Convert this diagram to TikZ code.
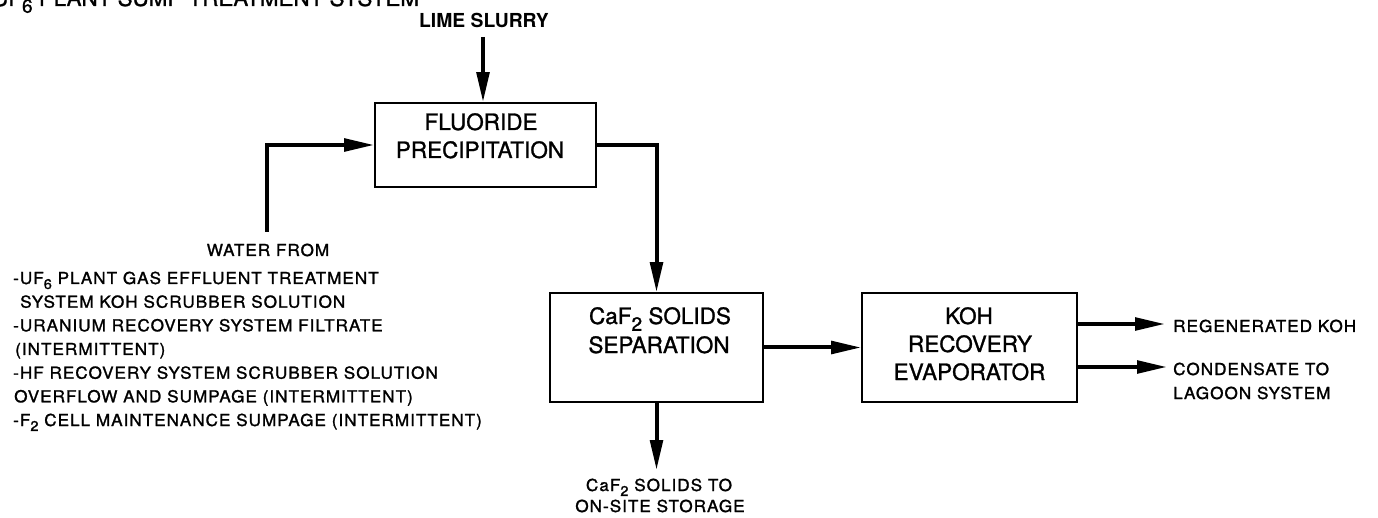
\documentclass[tikz,border=0pt]{standalone}
\usepackage{fontspec}
\setmainfont{TeX Gyre Heros}[FakeBold=1.2]
\newfontfamily\listfont[LetterSpace=6,FakeStretch=1.04,FakeBold=1.4]{TeX Gyre Heros}
\newfontfamily\boldface{TeX Gyre Heros Bold}
\usetikzlibrary{arrows.meta}
% lowered, slightly reduced index digit (UF6, CaF2, F2)
\newcommand\lowdigit[1]{\raisebox{-0.3em}{\scalebox{0.85}{#1}}}

\tikzset{
  unit/.style={draw, line width=1.6pt, inner sep=0pt},
  flow/.style={line width=4pt, -{Triangle[length=30pt,width=12.5pt]}},
  boxtxt/.style={font=\fontsize{22.5}{27}\selectfont, anchor=base, inner sep=0pt},
  smalltxt/.style={font=\listfont\fontsize{16.5}{20}\selectfont, inner sep=0pt},
  titletxt/.style={font=\fontsize{22.4}{26}\selectfont, inner sep=0pt, anchor=base west},
  limetxt/.style={font=\boldface\fontsize{19.3}{23}\selectfont, inner sep=0pt, anchor=base},
}

\begin{document}
\begin{tikzpicture}[x=1pt, y=-1pt]
  \useasboundingbox (0,0) rectangle (1378,518);
  \fill[white] (0,0) rectangle (1378,518);
  \clip (0,0) rectangle (1378,518);

  % heading (runs off the top edge)
  \node[titletxt] (title) at (-8,6) {UF\lowdigit{6} PLANT SUMP TREATMENT SYSTEM};

  % process units
  \node[unit, minimum width=221pt, minimum height=84pt]  (fluor) at (485.5,145) {};
  \node[unit, minimum width=213pt, minimum height=109pt] (sep)   at (656.5,347.5) {};
  \node[unit, minimum width=215pt, minimum height=109pt] (koh)   at (969.5,347.5) {};

  % unit labels
  \node[boxtxt] (fluorA) at (481,130) {FLUORIDE};
  \node[boxtxt] (fluorB) at (480,158) {PRECIPITATION};
  \node[boxtxt] (sepA) at (660,324) {CaF\lowdigit{2} SOLIDS};
  \node[boxtxt] (sepB) at (659,353) {SEPARATION};
  \node[boxtxt] (kohA) at (969,324) {KOH};
  \node[boxtxt] (kohB) at (970,352) {RECOVERY};
  \node[boxtxt] (kohC) at (969.5,380) {EVAPORATOR};

  % lime feed
  \node[limetxt] (lime) at (484,28) {LIME SLURRY};
  \coordinate (limeSrc) at (483,37);
  \draw[flow] (limeSrc) -- (limeSrc |- fluor.north);

  % water feed and its sources
  \node[smalltxt, anchor=base] (w0) at (268,256) {WATER FROM};
  \node[smalltxt, anchor=base west] (w1) at (13,284) {-UF\lowdigit{6} PLANT GAS EFFLUENT TREATMENT};
  \node[smalltxt, anchor=base west] (w2) at (20,307.7) {SYSTEM KOH SCRUBBER SOLUTION};
  \node[smalltxt, anchor=base west] (w3) at (13,331.3) {-URANIUM RECOVERY SYSTEM FILTRATE};
  \node[smalltxt, anchor=base west] (w4) at (15,355) {(INTERMITTENT)};
  \node[smalltxt, anchor=base west] (w5) at (13,378.7) {-HF RECOVERY SYSTEM SCRUBBER SOLUTION};
  \node[smalltxt, anchor=base west] (w6) at (14,402.3) {OVERFLOW AND SUMPAGE (INTERMITTENT)};
  \node[smalltxt, anchor=base west] (w7) at (13,426) {-F\lowdigit{2} CELL MAINTENANCE SUMPAGE (INTERMITTENT)};
  \coordinate (waterSrc) at (267,232);
  \draw[flow] (waterSrc) |- (fluor.west);

  % precipitate slurry to separation, clear liquor to evaporator
  \draw[flow] (fluor.east) -| (sep.north);
  \draw[flow] (sep.east) -- (koh.west);

  % solids to storage
  \coordinate (storeTip) at (658,470);
  \draw[flow] (sep.south) -- (sep.south |- storeTip);
  \node[smalltxt, anchor=base] (storeA) at (659,491) {CaF\lowdigit{2} SOLIDS TO};
  \node[smalltxt, anchor=base] (storeB) at (660,512) {ON-SITE STORAGE};

  % evaporator products
  \coordinate (regTip) at (1165,324);
  \draw[flow] (koh.east |- regTip) -- (regTip);
  \node[smalltxt, anchor=base west] (reg) at (1173,332) {REGENERATED KOH};
  \coordinate (condTip) at (1167,367);
  \draw[flow] (koh.east |- condTip) -- (condTip);
  \node[smalltxt, anchor=base west] (condA) at (1173,375) {CONDENSATE TO};
  \node[smalltxt, anchor=base west] (condB) at (1173,399) {LAGOON SYSTEM};
\end{tikzpicture}
\end{document}
